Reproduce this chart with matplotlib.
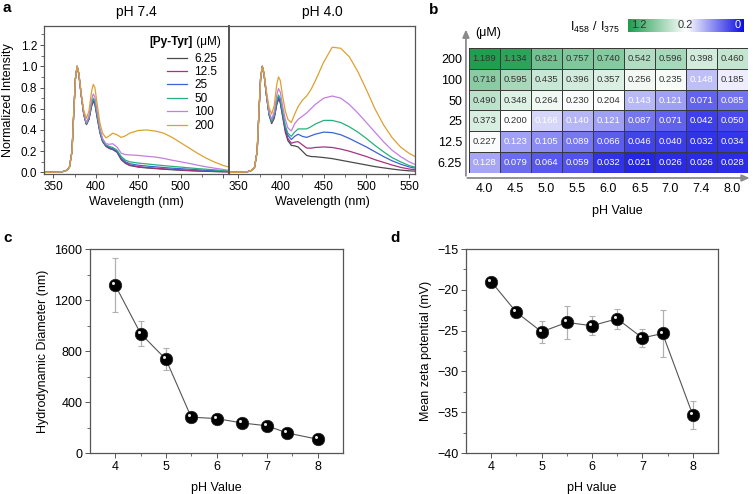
import numpy as np
import matplotlib
matplotlib.use('Agg')
import matplotlib.pyplot as plt
from matplotlib.colors import LinearSegmentedColormap, TwoSlopeNorm
from matplotlib.transforms import offset_copy

plt.rcParams['font.family'] = ['Liberation Sans', 'DejaVu Sans']
plt.rcParams['font.size'] = 9

# ---------------- data: panel a (normalized emission spectra) ----------------
wl = [340, 360, 366, 369, 372, 374, 376, 378, 380, 383, 386, 389, 392, 395, 397, 399,
      402, 405, 408, 412, 416, 420, 425, 430, 435, 440, 450, 460, 470, 480, 490, 500,
      510, 520, 530, 540, 550, 557]
conc_labels = ['6.25', '12.5', '25', '50', '100', '200']
line_colors = ['#4a4a4a', '#a8327f', '#3c64d2', '#27b07c', '#c27fe0', '#dea032']

spec_74 = [
    [0.0, 0.005, 0.02, 0.05, 0.2, 0.55, 0.88, 1.0, 0.93, 0.72, 0.54,
     0.45, 0.5, 0.62, 0.67, 0.64, 0.5, 0.37, 0.29, 0.245,
     0.225, 0.215, 0.19, 0.12, 0.085, 0.065, 0.05, 0.042, 0.036, 0.03,
     0.025, 0.02, 0.016, 0.013, 0.01, 0.008, 0.006, 0.005],
    [0.0, 0.005, 0.02, 0.05, 0.2, 0.55, 0.88, 1.0, 0.93, 0.72, 0.54,
     0.455, 0.505, 0.63, 0.68, 0.65, 0.51, 0.38, 0.295, 0.25,
     0.228, 0.218, 0.195, 0.125, 0.09, 0.07, 0.055, 0.046, 0.04, 0.034,
     0.029, 0.024, 0.019, 0.015, 0.012, 0.009, 0.007, 0.006],
    [0.0, 0.005, 0.02, 0.05, 0.2, 0.55, 0.88, 1.0, 0.93, 0.72, 0.545,
     0.46, 0.51, 0.64, 0.69, 0.66, 0.52, 0.385, 0.3, 0.255,
     0.235, 0.225, 0.2, 0.135, 0.1, 0.082, 0.068, 0.06, 0.053, 0.046,
     0.04, 0.035, 0.03, 0.025, 0.02, 0.016, 0.012, 0.01],
    [0.0, 0.005, 0.02, 0.05, 0.2, 0.55, 0.88, 1.0, 0.93, 0.72, 0.545,
     0.46, 0.515, 0.65, 0.70, 0.67, 0.53, 0.39, 0.305, 0.26,
     0.245, 0.235, 0.21, 0.15, 0.115, 0.1, 0.088, 0.08, 0.072, 0.064,
     0.057, 0.05, 0.043, 0.036, 0.03, 0.024, 0.018, 0.015],
    [0.0, 0.005, 0.02, 0.05, 0.2, 0.55, 0.88, 1.0, 0.93, 0.72, 0.55,
     0.47, 0.53, 0.68, 0.74, 0.71, 0.56, 0.41, 0.32, 0.27,
     0.265, 0.27, 0.24, 0.18, 0.168, 0.165, 0.16, 0.152, 0.145, 0.132,
     0.115, 0.1, 0.085, 0.068, 0.053, 0.04, 0.028, 0.02],
    [0.0, 0.005, 0.02, 0.05, 0.2, 0.55, 0.88, 1.0, 0.94, 0.74, 0.58,
     0.51, 0.58, 0.76, 0.83, 0.8, 0.62, 0.46, 0.37, 0.325,
     0.345, 0.37, 0.355, 0.33, 0.345, 0.37, 0.395, 0.40, 0.39, 0.37,
     0.33, 0.28, 0.23, 0.18, 0.135, 0.097, 0.066, 0.05],
]
spec_40 = [
    [0.0, 0.005, 0.02, 0.05, 0.2, 0.55, 0.88, 1.0, 0.93, 0.72, 0.54,
     0.46, 0.51, 0.64, 0.69, 0.66, 0.52, 0.38, 0.3, 0.255,
     0.25, 0.24, 0.2, 0.16, 0.15, 0.148, 0.14, 0.13, 0.115, 0.1,
     0.085, 0.07, 0.055, 0.043, 0.032, 0.022, 0.015, 0.012],
    [0.0, 0.005, 0.02, 0.05, 0.2, 0.55, 0.88, 1.0, 0.93, 0.72, 0.545,
     0.47, 0.52, 0.65, 0.70, 0.67, 0.53, 0.4, 0.32, 0.275,
     0.285, 0.29, 0.26, 0.23, 0.228, 0.235, 0.24, 0.235, 0.22, 0.2,
     0.175, 0.15, 0.12, 0.095, 0.07, 0.048, 0.032, 0.025],
    [0.0, 0.005, 0.02, 0.05, 0.2, 0.55, 0.88, 1.0, 0.93, 0.72, 0.55,
     0.48, 0.53, 0.66, 0.71, 0.68, 0.55, 0.42, 0.35, 0.31,
     0.34, 0.36, 0.34, 0.33, 0.345, 0.36, 0.38, 0.375, 0.355, 0.32,
     0.28, 0.24, 0.195, 0.15, 0.11, 0.078, 0.052, 0.04],
    [0.0, 0.005, 0.02, 0.05, 0.2, 0.55, 0.88, 1.0, 0.93, 0.72, 0.55,
     0.48, 0.54, 0.68, 0.73, 0.70, 0.57, 0.44, 0.37, 0.34,
     0.38, 0.41, 0.41, 0.41, 0.43, 0.455, 0.49, 0.49, 0.47, 0.43,
     0.38, 0.32, 0.255, 0.195, 0.14, 0.1, 0.065, 0.05],
    [0.0, 0.005, 0.02, 0.05, 0.2, 0.55, 0.88, 1.0, 0.93, 0.73, 0.57,
     0.5, 0.57, 0.73, 0.79, 0.76, 0.62, 0.5, 0.42, 0.39,
     0.46, 0.5, 0.53, 0.56, 0.6, 0.64, 0.7, 0.72, 0.7, 0.64,
     0.56, 0.47, 0.38, 0.29, 0.21, 0.15, 0.1, 0.075],
    [0.0, 0.005, 0.02, 0.05, 0.2, 0.55, 0.88, 1.0, 0.94, 0.76, 0.61,
     0.55, 0.63, 0.83, 0.90, 0.87, 0.71, 0.58, 0.5, 0.47,
     0.55, 0.62, 0.68, 0.72, 0.78, 0.86, 1.04, 1.18, 1.17, 1.09,
     0.95, 0.78, 0.6, 0.45, 0.33, 0.24, 0.18, 0.15],
]

# ---------------- data: panel b (I458/I375 heatmap) ----------------
ph_cols = ['4.0', '4.5', '5.0', '5.5', '6.0', '6.5', '7.0', '7.4', '8.0']
conc_rows = ['200', '100', '50', '25', '12.5', '6.25']
ratio = [
    [1.189, 1.134, 0.821, 0.757, 0.740, 0.542, 0.596, 0.398, 0.460],
    [0.718, 0.595, 0.435, 0.396, 0.357, 0.256, 0.235, 0.148, 0.185],
    [0.490, 0.348, 0.264, 0.230, 0.204, 0.143, 0.121, 0.071, 0.085],
    [0.373, 0.200, 0.166, 0.140, 0.121, 0.087, 0.071, 0.042, 0.050],
    [0.227, 0.123, 0.105, 0.089, 0.066, 0.046, 0.040, 0.032, 0.034],
    [0.128, 0.079, 0.064, 0.059, 0.032, 0.021, 0.026, 0.026, 0.028],
]

# ---------------- data: panels c, d ----------------
ph = [4, 4.5, 5, 5.5, 6, 6.5, 7, 7.4, 8]
diameter = [1315, 937, 735, 281, 270, 236, 213, 157, 108]
diameter_err = [212, 95, 87, 18, 15, 15, 14, 12, 10]
zeta = [-19.0, -22.75, -25.15, -24.0, -24.4, -23.55, -25.9, -25.35, -35.35]
zeta_err = [0.3, 0.6, 1.35, 2.0, 1.2, 1.2, 1.15, 2.9, 1.7]

W, H = 756, 494
fig = plt.figure(figsize=(W / 100, H / 100), dpi=100)


def px_axes(x0, y0, x1, y1):
    return fig.add_axes([x0 / W, 1 - y1 / H, (x1 - x0) / W, (y1 - y0) / H])


spine_c = '#555555'

# ---------------- panel a ----------------
ax_l = px_axes(44, 26, 229, 174)
ax_r = px_axes(229, 26, 415, 174)
for ax, spec, title in [(ax_l, spec_74, 'pH 7.4'), (ax_r, spec_40, 'pH 4.0')]:
    for ys, c, lab in zip(spec, line_colors, conc_labels):
        ax.plot(wl, ys, color=c, lw=0.9, label=lab)
    ax.set_xlim(339, 557)
    ax.set_ylim(-0.015, 1.38)
    ax.set_xticks([350, 400, 450, 500, 550])
    ax.set_xticks([375, 425, 475, 525], minor=True)
    ax.set_xlabel('Wavelength (nm)', fontsize=9, labelpad=2)
    ax.set_title(title, fontsize=10, pad=7)
    for s in ax.spines.values():
        s.set_color(spine_c)
        s.set_linewidth(0.9)
    ax.tick_params(direction='out', length=3, width=0.7, color=spine_c, labelsize=8.5, pad=2)
    ax.tick_params(which='minor', direction='out', length=2, width=0.6, color=spine_c)

ax_l.set_xticklabels(['350', '400', '450', '500', ''])
ax_l.set_yticks(np.arange(0, 1.21, 0.2))
ax_l.set_yticks(np.arange(0.1, 1.31, 0.2), minor=True)
ax_l.set_ylabel('Normalized Intensity', fontsize=9, labelpad=5)
ax_r.set_yticks([])
ax_r.spines['left'].set_linewidth(1.4)
ax_l.spines['right'].set_linewidth(1.4)

leg = ax_l.legend(loc='upper left', bbox_to_anchor=(0.665, 0.82), frameon=False,
                  fontsize=8.5, handlelength=1.7, handletextpad=0.6, labelspacing=0.12,
                  borderpad=0, borderaxespad=0)
t1 = ax_l.text(0.57, 0.89, '[Py-Tyr]', transform=ax_l.transAxes, fontsize=8.5,
               fontweight='bold', va='center', ha='left')
ax_l.annotate(' (\u03bcM)', xy=(1, 0.5), xycoords=t1, fontsize=8.5, va='center', ha='left')

# ---------------- panel b ----------------
cmap = LinearSegmentedColormap.from_list('bwg', [(0, '#0c0ce4'), (0.5, '#ffffff'), (1, '#1f9c4e')])
norm = TwoSlopeNorm(vmin=0, vcenter=0.2, vmax=1.2)
ax_b = px_axes(469, 48, 748, 173)
vals = np.array(ratio)
ax_b.pcolormesh(np.arange(len(ph_cols) + 1), np.arange(len(conc_rows) + 1), vals,
                cmap=cmap, norm=norm, edgecolors='#3a3a3a', linewidth=0.4)
ax_b.set_xlim(0, len(ph_cols))
ax_b.set_ylim(len(conc_rows), 0)
for i in range(len(conc_rows)):
    for j in range(len(ph_cols)):
        v = vals[i, j]
        ax_b.text(j + 0.5, i + 0.5, f'{v:.3f}', ha='center', va='center', fontsize=6.8,
                  color='white' if v < 0.18 else '#333333')
ax_b.set_xticks(np.arange(len(ph_cols)) + 0.5)
ax_b.set_xticklabels(ph_cols)
ax_b.set_yticks(np.arange(len(conc_rows)) + 0.5)
ax_b.set_yticklabels(conc_rows)
ax_b.tick_params(length=0, labelsize=9, pad=7)
ax_b.tick_params(axis='y', pad=5)
for s in ax_b.spines.values():
    s.set_visible(False)
arrow_kw = dict(arrowstyle='-|>,head_length=0.5,head_width=0.22', color='#8a8a8a', lw=1.3)
ax_b.annotate('', xy=(-0.011, 1.17), xytext=(-0.011, -0.045), xycoords='axes fraction',
              arrowprops=arrow_kw, annotation_clip=False)
ax_b.annotate('', xy=(1.016, -0.04), xytext=(-0.016, -0.04), xycoords='axes fraction',
              arrowprops=arrow_kw, annotation_clip=False)
ax_b.text(0.068, 1.12, '(\u03bcM)', transform=ax_b.transAxes, ha='center', va='center', fontsize=9)
ax_b.text(0.53, -0.30, 'pH Value', transform=ax_b.transAxes, ha='center', va='center', fontsize=9)

# colour bar drawn as a gradient strip (1.2 on the left, 0 on the right)
ax_cb = px_axes(628, 19, 744, 32)
grad = np.linspace(1, 0, 256).reshape(1, -1)
ax_cb.imshow(grad, cmap=cmap, vmin=0, vmax=1, aspect='auto', extent=[0, 1, 0, 1])
ax_cb.set_xticks([])
ax_cb.set_yticks([])
for s in ax_cb.spines.values():
    s.set_visible(False)
ax_cb.text(0.03, 0.5, '1.2', transform=ax_cb.transAxes, ha='left', va='center', fontsize=8, color='#333333')
ax_cb.text(0.49, 0.5, '0.2', transform=ax_cb.transAxes, ha='center', va='center', fontsize=8, color='#333333')
ax_cb.text(0.97, 0.5, '0', transform=ax_cb.transAxes, ha='right', va='center', fontsize=8, color='white')
fig.text(595 / W, 1 - 27 / H, r'$\mathregular{I_{458}\ /\ I_{375}}$', ha='center', va='center', fontsize=9)


# ---------------- panels c and d ----------------
def sphere_plot(ax, x, y, err):
    ax.errorbar(x, y, yerr=err, fmt='none', ecolor='#b0b0b0', elinewidth=0.9, capsize=2, capthick=0.8, zorder=1)
    ax.plot(x, y, '-', color='#555555', lw=0.8, zorder=2)
    ax.plot(x, y, 'o', ms=9, mfc='black', mec='#222222', mew=0.5, zorder=3)
    hl = offset_copy(ax.transData, fig=fig, x=-1.4, y=1.4, units='points')
    ax.plot(x, y, 'o', ms=2.2, mfc='#e8e8e8', mec='none', transform=hl, zorder=4)
    ax.set_xlim(3.5, 8.5)
    ax.set_xticks([4, 5, 6, 7, 8])
    ax.set_xticks([4.5, 5.5, 6.5, 7.5], minor=True)
    for s in ax.spines.values():
        s.set_color(spine_c)
        s.set_linewidth(0.9)
    ax.tick_params(direction='out', length=3.5, width=0.7, color=spine_c, labelsize=9, pad=2)
    ax.tick_params(which='minor', direction='out', length=2, width=0.6, color=spine_c)


ax_c = px_axes(90, 249, 343, 453)
sphere_plot(ax_c, ph, diameter, diameter_err)
ax_c.set_ylim(0, 1600)
ax_c.set_yticks([0, 400, 800, 1200, 1600])
ax_c.set_yticks([200, 600, 1000, 1400], minor=True)
ax_c.set_xlabel('pH Value', fontsize=9, labelpad=7)
ax_c.set_ylabel('Hydrodynamic Diameter (nm)', fontsize=9, labelpad=4)

ax_d = px_axes(466, 249, 718, 453)
sphere_plot(ax_d, ph, zeta, zeta_err)
ax_d.set_ylim(-40, -15)
ax_d.set_yticks([-40, -35, -30, -25, -20, -15])
ax_d.set_yticks([-37.5, -32.5, -27.5, -22.5, -17.5], minor=True)
ax_d.set_yticklabels(['\u221240', '\u221235', '\u221230', '\u221225', '\u221220', '\u221215'])
ax_d.set_xlabel('pH value', fontsize=9, labelpad=7)
ax_d.set_ylabel('Mean zeta potential (mV)', fontsize=9, labelpad=4)

# panel letters
for lab, x, y in [('a', 7, 8), ('b', 434, 10), ('c', 8, 238), ('d', 395, 238)]:
    fig.text(x / W, 1 - y / H, lab, fontsize=11, fontweight='bold', ha='center', va='center')

fig.savefig('out.png', dpi=100)
